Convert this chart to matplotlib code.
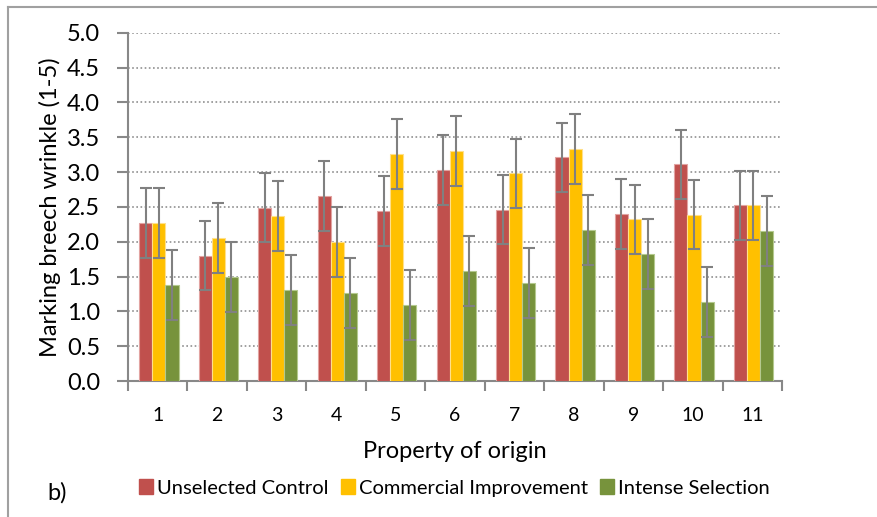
import numpy as np
import matplotlib.pyplot as plt
from matplotlib.lines import Line2D

plt.rcParams['font.family'] = ['Lato', 'DejaVu Sans']

properties = ['1', '2', '3', '4', '5', '6', '7', '8', '9', '10', '11']
series_names = ['Unselected Control', 'Commercial Improvement', 'Intense Selection']
unselected = [2.27, 1.80, 2.49, 2.66, 2.44, 3.03, 2.46, 3.21, 2.40, 3.11, 2.52]
commercial = [2.27, 2.05, 2.37, 2.00, 3.26, 3.30, 2.98, 3.33, 2.32, 2.39, 2.52]
intense = [1.38, 1.49, 1.31, 1.26, 1.09, 1.58, 1.41, 2.17, 1.82, 1.13, 2.15]
err = [0.5] * 11

colors = ['#C0504D', '#FFC000', '#77933C']
edges = ['#E2A3A1', '#FFE08A', '#B4C98E']

fig = plt.figure(figsize=(8.77, 5.17), dpi=100)
ax = fig.add_axes([128 / 877, 1 - 381 / 517, (782 - 128) / 877, (381 - 32.7) / 517])

x = np.arange(len(properties))
w = 0.22
for i, (vals, c, ec) in enumerate(zip([unselected, commercial, intense], colors, edges)):
    pos = x + (i - 1) * w + 0.02
    ax.bar(pos, vals, w, color=c, edgecolor=ec, linewidth=0.8, zorder=3, label=series_names[i])
    ax.errorbar(pos, vals, yerr=err, fmt='none', ecolor='#808080', elinewidth=1.5,
                capsize=4, capthick=1.5, zorder=4)

ax.set_xlim(-0.5, len(properties) - 0.5)
ax.set_ylim(0, 5.0)
ax.set_yticks(np.arange(0, 5.01, 0.5))
ax.set_yticklabels([f'{v:.1f}' for v in np.arange(0, 5.01, 0.5)], fontsize=17)
ax.yaxis.grid(True, linestyle=(0, (1, 1.5)), color='#909090', linewidth=1.2, zorder=0)

# ticks at group boundaries, labels at group centres
ax.set_xticks(np.arange(-0.5, len(properties)), minor=False)
ax.set_xticklabels([])
ax.set_xticks(x, minor=True)
ax.set_xticklabels(properties, minor=True, fontsize=14)
ax.tick_params(axis='x', which='major', length=7, width=1.5, color='#888888', direction='out')
ax.tick_params(axis='x', which='minor', length=0, pad=19)
ax.tick_params(axis='y', length=8, width=1.5, color='#888888', direction='out', pad=12)

for s in ['top', 'right']:
    ax.spines[s].set_visible(False)
for s in ['left', 'bottom']:
    ax.spines[s].set_color('#888888')
    ax.spines[s].set_linewidth(1.5)

ax.set_ylabel('Marking breech wrinkle (1-5)', fontsize=17, labelpad=4)
ax.set_xlabel('Property of origin', fontsize=17, labelpad=12)

handles = [plt.Rectangle((0, 0), 1, 1, color=c) for c in colors]
fig.legend(handles, series_names, loc='center', bbox_to_anchor=(0.518, 1 - 488 / 517),
           ncol=3, frameon=False, fontsize=14.5, handlelength=0.7, handleheight=0.7,
           handletextpad=0.2, columnspacing=0.6)

fig.text(47 / 877, 1 - 493 / 517, 'b)', fontsize=17, va='center', ha='left')

# outer frame lines
fig.add_artist(Line2D([8 / 877, 8 / 877], [0, 1 - 7 / 517], color='#A0A0A0', linewidth=1.5))
fig.add_artist(Line2D([8 / 877, 1], [1 - 7 / 517, 1 - 7 / 517], color='#A0A0A0', linewidth=1.5))

fig.savefig('out.png', dpi=100)
